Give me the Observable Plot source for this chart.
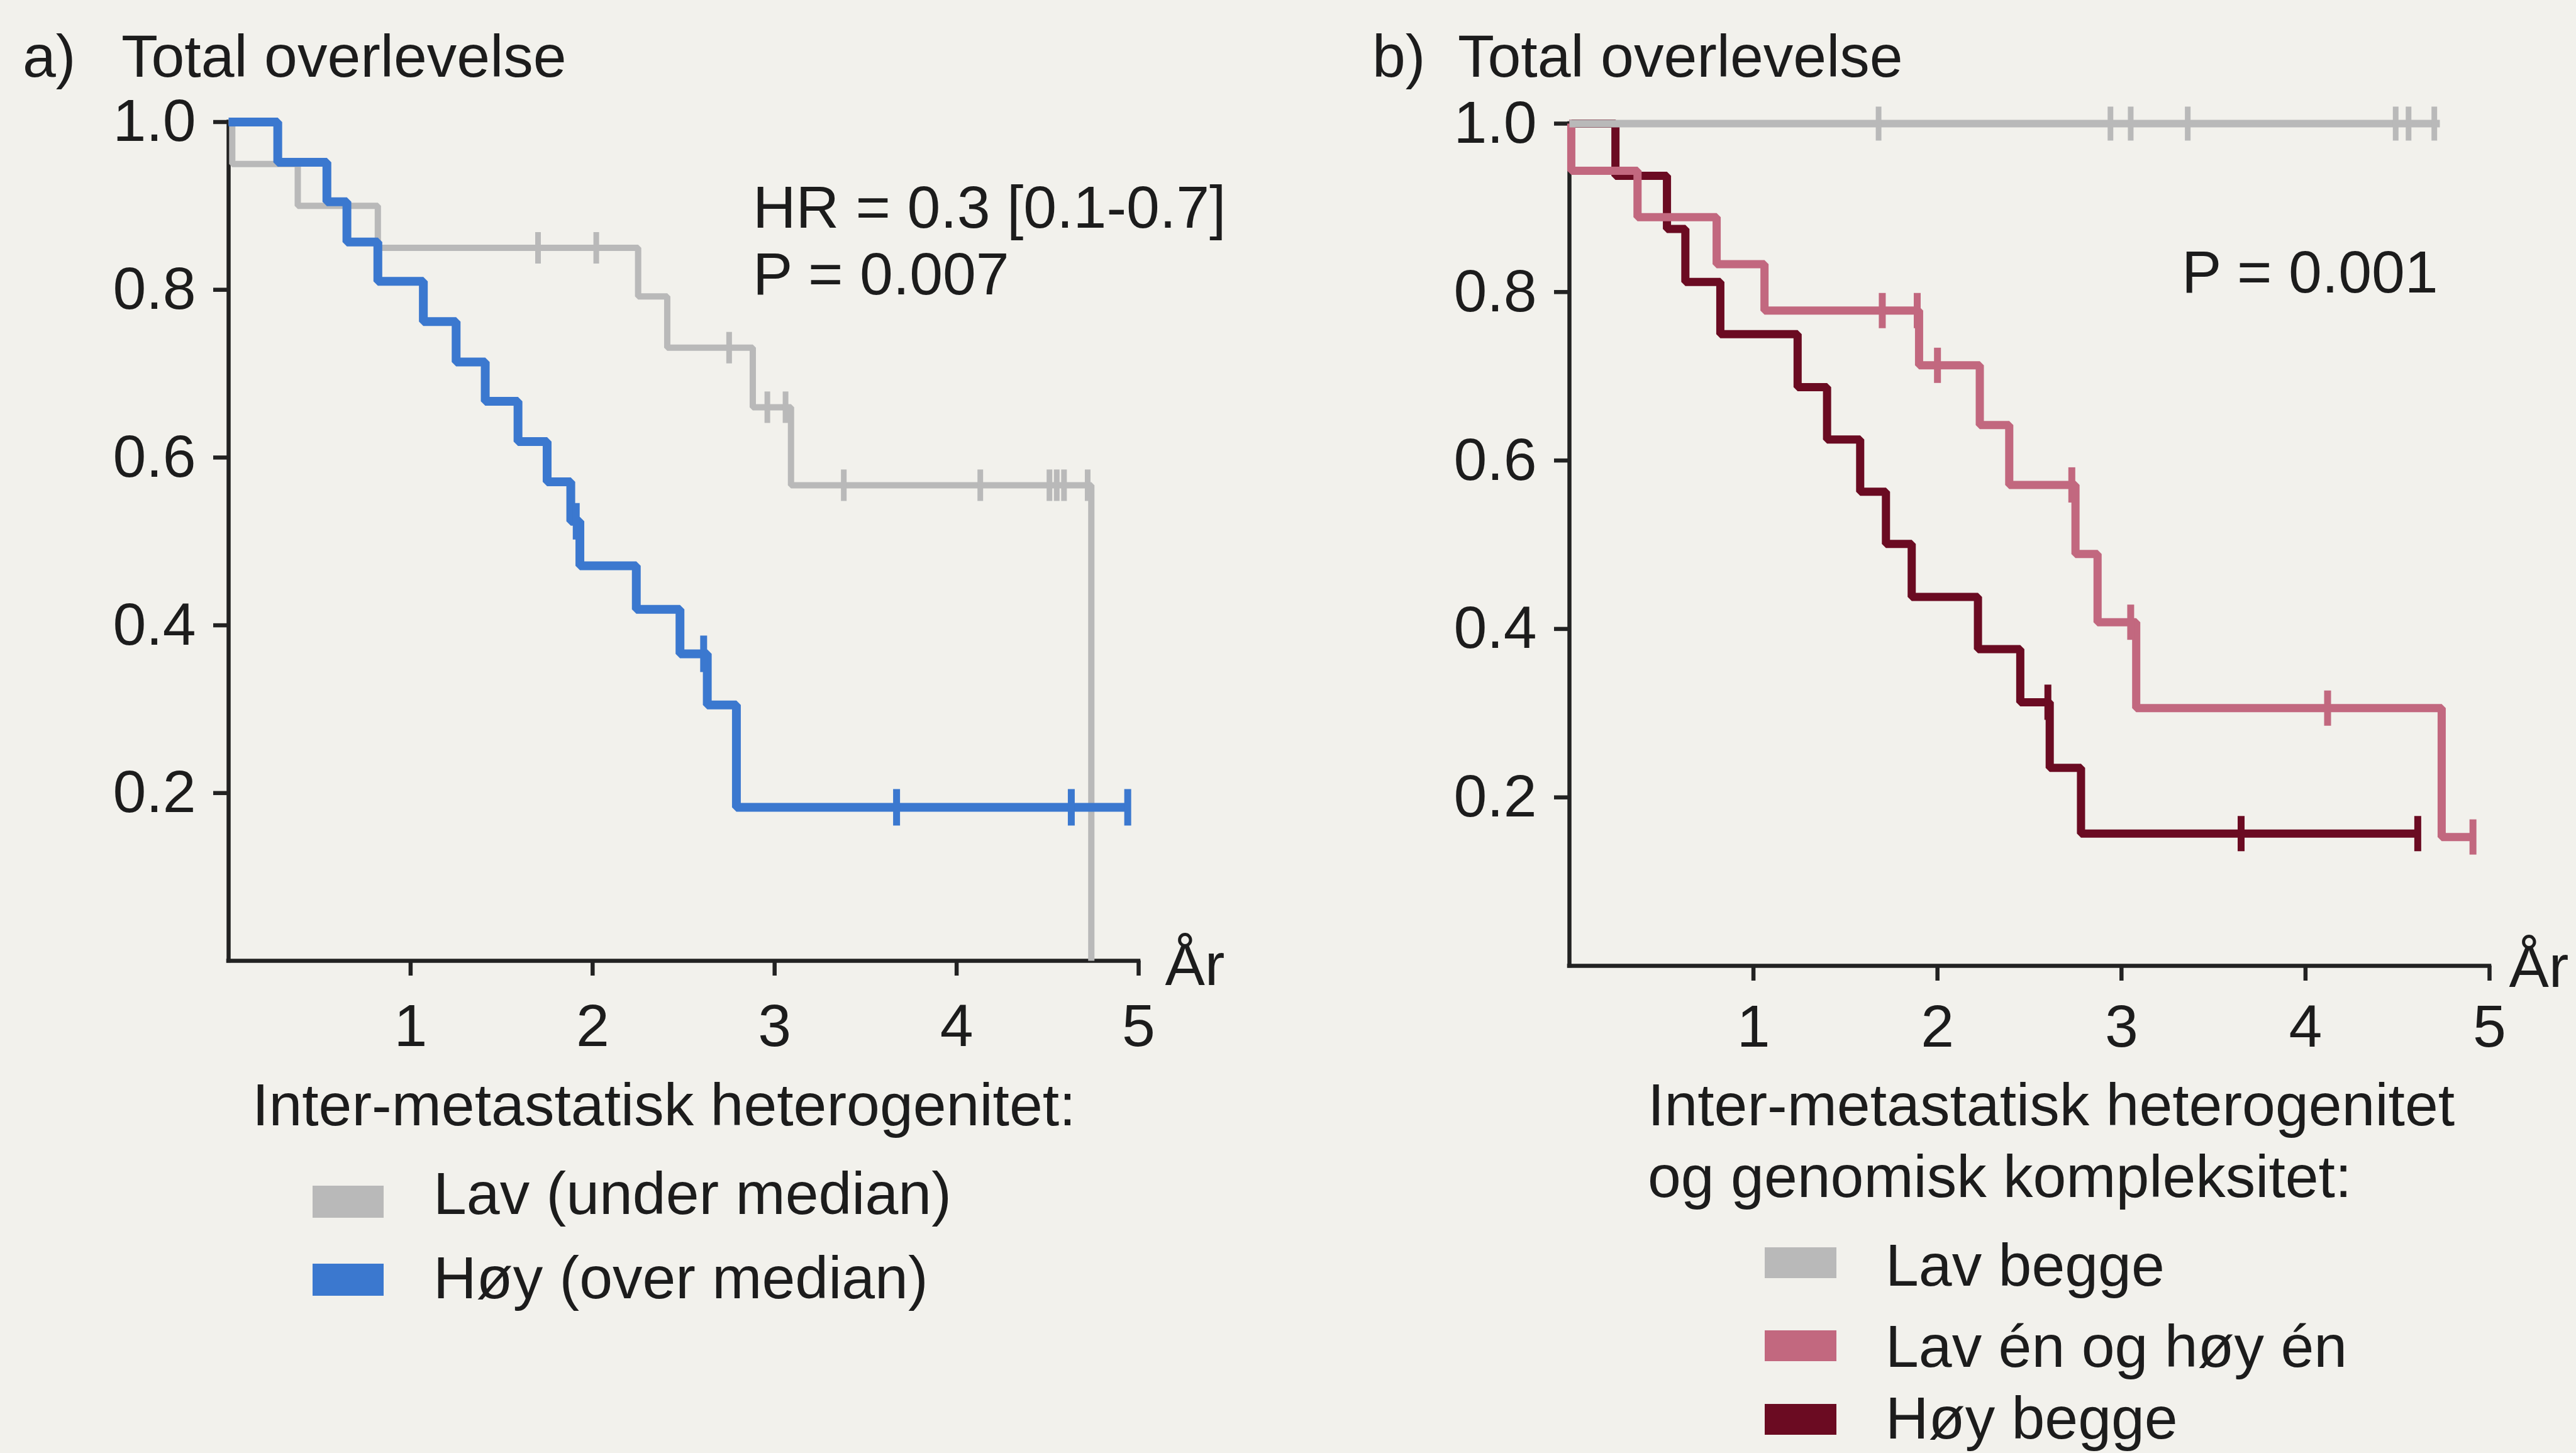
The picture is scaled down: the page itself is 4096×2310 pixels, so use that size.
<!DOCTYPE html>
<html><head><meta charset="utf-8">
<script src="https://cdn.jsdelivr.net/npm/d3@7"></script>
<script src="https://cdn.jsdelivr.net/npm/@observablehq/plot@0.6"></script>
<style>
html,body{margin:0;padding:0;background:#f2f1ec;}
#root{position:relative;width:4096px;height:2310px;overflow:hidden;background:#f2f1ec;font-family:"Liberation Sans",Arial,sans-serif;color:#1c1c1c;}
.t{position:absolute;font-size:95px;line-height:95px;white-space:nowrap;}
.sw{position:absolute;}
.panel{position:absolute;top:0;}
</style></head><body><div id="root"></div>
<script>
// ---------- data ----------
const yearTicks = [1, 2, 3, 4, 5];
const survTicks = [0.2, 0.4, 0.6, 0.8, 1.0];
const xDomain = [0, 5];
const yDomain = [0, 1];

// Panel a: inter-metastatic heterogeneity
const aTitle = "Total overlevelse";
const aStats = ["HR = 0.3 [0.1-0.7]", "P = 0.007"];
const aLegendTitle = "Inter-metastatisk heterogenitet:";
const aGroups = ["Lav (under median)", "Høy (over median)"];
const aColors = ["#b9b9b9", "#3b78cf"];

const aLowT = [0, 0.02, 0.38, 0.82, 2.25, 2.41, 2.88, 3.09, 4.74];
const aLowS = [1, 0.95, 0.90, 0.85, 0.792, 0.731, 0.660, 0.567, 0];
const aLowCens = [1.70, 2.02, 2.75, 2.96, 3.06, 3.38, 4.13, 4.51, 4.55, 4.59, 4.72];

const aHighT = [0, 0.27, 0.54, 0.65, 0.82, 1.07, 1.25, 1.41, 1.59, 1.75, 1.88, 1.93, 2.24, 2.48, 2.63, 2.79, 4.94];
const aHighS = [1, 0.952, 0.905, 0.857, 0.810, 0.762, 0.714, 0.667, 0.619, 0.571, 0.524, 0.471, 0.419, 0.366, 0.305, 0.183, 0.183];
const aHighCens = [1.91, 2.61, 3.67, 4.63, 4.94];

// Panel b: heterogeneity and genomic complexity
const bTitle = "Total overlevelse";
const bStats = ["P = 0.001"];
const bLegendTitle = ["Inter-metastatisk heterogenitet", "og genomisk kompleksitet:"];
const bGroups = ["Lav begge", "Lav én og høy én", "Høy begge"];
const bColors = ["#b9b9b9", "#c2687f", "#6b0b22"];

const bLowT = [0, 4.73];
const bLowS = [1, 1];
const bLowCens = [1.68, 2.94, 3.05, 3.36, 4.49, 4.56, 4.70];

const bMixT = [0, 0.01, 0.37, 0.80, 1.06, 1.90, 2.23, 2.39, 2.75, 2.87, 3.08, 4.74, 4.91];
const bMixS = [1, 0.944, 0.889, 0.833, 0.778, 0.713, 0.642, 0.571, 0.489, 0.408, 0.306, 0.153, 0.153];
const bMixCens = [1.70, 1.89, 2.00, 2.73, 3.05, 4.12, 4.91];

const bHighT = [0, 0.25, 0.53, 0.63, 0.82, 1.24, 1.40, 1.58, 1.72, 1.86, 2.22, 2.45, 2.61, 2.78, 4.61];
const bHighS = [1, 0.938, 0.875, 0.812, 0.750, 0.687, 0.625, 0.563, 0.501, 0.438, 0.376, 0.313, 0.235, 0.157, 0.157];
const bHighCens = [2.60, 3.65, 4.61];

const xUnit = "År";

// ---------- helpers ----------
const pts = (T, S) => T.map((t, i) => ({t, s: S[i]}));
const censPts = (C, T, S) => C.map(c => {
  let s = S[0];
  for (let i = 0; i < T.length; i++) if (T[i] <= c) s = S[i];
  return {t: c, s};
});
const vTick = {draw(ctx, size) { const r = Math.sqrt(size / Math.PI); ctx.moveTo(0, -r); ctx.lineTo(0, r); }};
const INK = "#1c1c1c";
const AX = "#222222";
const FS = 95;

function curve(T, S, color, w) {
  return Plot.line(pts(T, S), {x: "t", y: "s", curve: "step-after", stroke: color, strokeWidth: w, strokeLinejoin: "miter", strokeLinecap: "butt"});
}
function cens(C, T, S, color, w, r) {
  return Plot.dot(censPts(C, T, S), {x: "t", y: "s", symbol: vTick, r, stroke: color, strokeWidth: w, fill: "none"});
}
function axes(xPad, unitDx, unitDy) {
  return [
    Plot.ruleY([yDomain[0]], {x1: xDomain[0], x2: xDomain[1], stroke: AX, strokeWidth: 6.5, strokeLinecap: "square"}),
    Plot.ruleX([xDomain[0]], {y1: yDomain[0], y2: yDomain[1], stroke: AX, strokeWidth: 6.5, strokeLinecap: "square"}),
    Plot.axisY({ticks: survTicks, tickSize: 24, tickPadding: 28, tickFormat: ".1f", label: null, fontSize: FS, stroke: AX, strokeWidth: 6.5}),
    Plot.axisX({ticks: yearTicks, tickSize: 24, tickPadding: xPad, tickFormat: d3.format("d"), label: null, fontSize: FS, stroke: AX, strokeWidth: 6.5}),
    Plot.text([xUnit], {text: d => d, frameAnchor: "bottom-right", dx: unitDx, dy: unitDy, textAnchor: "start", lineAnchor: "bottom", fontSize: FS, fill: INK})
  ];
}

function makePlot(opts, marks) {
  return Plot.plot({
    width: 2048, height: 1720,
    marginLeft: opts.ml, marginRight: opts.mr, marginTop: opts.mt, marginBottom: opts.mb,
    x: {domain: xDomain}, y: {domain: yDomain},
    style: {background: "transparent", color: INK, fontFamily: '"Liberation Sans", Arial, sans-serif', fontSize: FS + "px", overflow: "visible"},
    marks
  });
}

const root = document.getElementById("root");
function place(el, left) { const d = document.createElement("div"); d.className = "panel"; d.style.left = left + "px"; d.appendChild(el); root.appendChild(d); }
function txt(s, left, baseline) {
  const d = document.createElement("div"); d.className = "t"; d.textContent = s;
  d.style.left = left + "px"; d.style.top = (baseline - 0.8465 * FS) + "px"; root.appendChild(d);
}
function swatch(color, left, top, w, h) {
  const d = document.createElement("div"); d.className = "sw"; d.style.background = color;
  d.style.left = left + "px"; d.style.top = top + "px"; d.style.width = w + "px"; d.style.height = h + "px"; root.appendChild(d);
}

// ---------- panel a ----------
const plotA = makePlot({ml: 363, mr: 238, mt: 193.5, mb: 193}, [
  ...axes(44, 42, 38),
  curve(aLowT, aLowS, aColors[0], 10),
  cens(aLowCens, aLowT, aLowS, aColors[0], 9, 25),
  curve(aHighT, aHighS, aColors[1], 14),
  cens(aHighCens, aHighT, aHighS, aColors[1], 11, 29)
]);
place(plotA, 0);

// ---------- panel b ----------
const plotB = makePlot({ml: 447, mr: 138, mt: 196, mb: 185}, [
  ...axes(37, 31, 33),
  curve(bHighT, bHighS, bColors[2], 13),
  cens(bHighCens, bHighT, bHighS, bColors[2], 11, 28),
  curve(bMixT, bMixS, bColors[1], 13),
  cens(bMixCens, bMixT, bMixS, bColors[1], 11, 28),
  curve(bLowT, bLowS, bColors[0], 12),
  cens(bLowCens, bLowT, bLowS, bColors[0], 9, 27)
]);
place(plotB, 2048);

// ---------- titles & annotations ----------
txt("a)", 36, 122);
txt(aTitle, 193, 122);
txt("b)", 2182, 122);
txt(bTitle, 2318, 122);
txt(aStats[0], 1197, 362);
txt(aStats[1], 1197, 468);
txt(bStats[0], 3469, 465);

// ---------- legends ----------
txt(aLegendTitle, 401, 1789);
const aSwTops = [1885, 2009];
const aBase = [1930, 2064];
aGroups.forEach((g, i) => { swatch(aColors[i], 497, aSwTops[i], 113, 51); txt(g, 689, aBase[i]); });

txt(bLegendTitle[0], 2620, 1789);
txt(bLegendTitle[1], 2620, 1903);
const bSwTops = [1983, 2115, 2232];
const bBase = [2044, 2173, 2287];
bGroups.forEach((g, i) => { swatch(bColors[i], 2806, bSwTops[i], 114, 49); txt(g, 2998, bBase[i]); });
</script>
</body></html>
